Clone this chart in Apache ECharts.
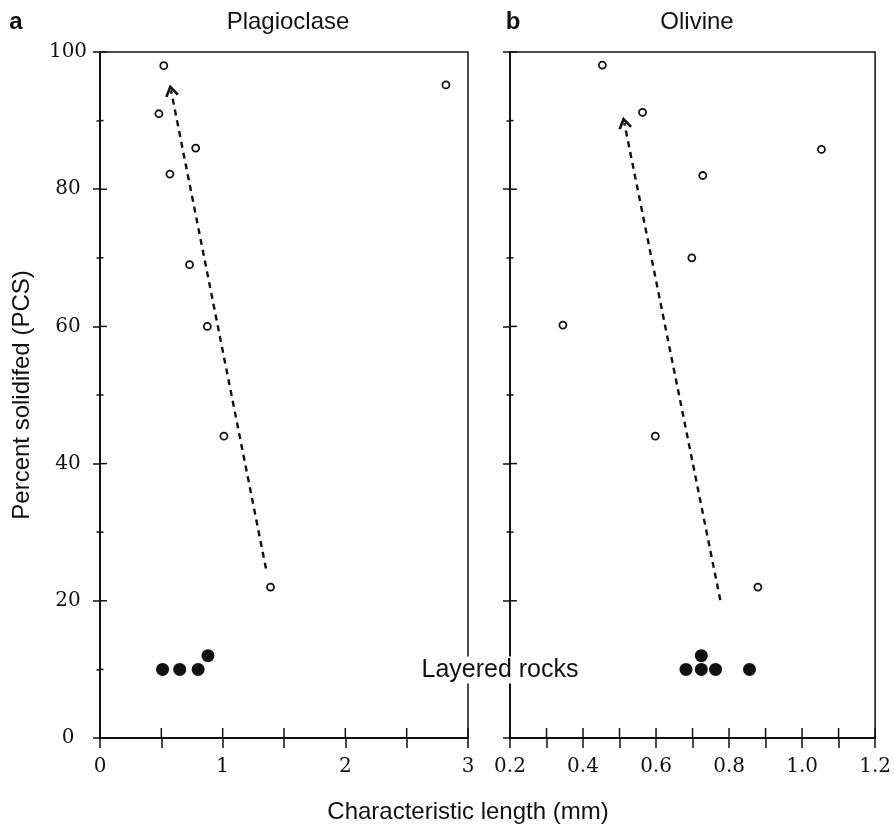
<!DOCTYPE html>
<html>
<head>
<meta charset="utf-8">
<script src="https://cdn.jsdelivr.net/npm/echarts@6/dist/echarts.min.js"></script>
<style>
  html, body { margin: 0; padding: 0; background: #ffffff; }
  #chart { width: 894px; height: 830px; }
</style>
</head>
<body>
<div id="chart"></div>
<script>
// Panel a — plagioclase: [characteristic length (mm), percent solidified]
const plagSamples = [[0.52, 98], [0.48, 91], [0.57, 82.2], [0.78, 86], [0.73, 69], [0.875, 60], [1.01, 44], [1.39, 22], [2.82, 95.2]];
const plagLayered = [[0.51, 10], [0.65, 10], [0.80, 10], [0.88, 12]];
const plagTrend = [[1.353, 24.7], [0.579, 94.4]];

// Panel b — olivine
const olivSamples = [[0.453, 98.1], [0.563, 91.2], [1.053, 85.8], [0.728, 82], [0.698, 70], [0.345, 60.2], [0.598, 44], [0.879, 22]];
const olivLayered = [[0.682, 10], [0.724, 10], [0.763, 10], [0.724, 12], [0.856, 10]];
const olivTrend = [[0.776, 20.1], [0.513, 89.7]];

// Tick positions and labels
const plagXTicks = [0, 0.5, 1, 1.5, 2, 2.5, 3];
const olivXTicks = [0.2, 0.3, 0.4, 0.5, 0.6, 0.7, 0.8, 0.9, 1.0, 1.1, 1.2];
const yTicks = [0, 10, 20, 30, 40, 50, 60, 70, 80, 90, 100];
const yTickLabels = [0, 20, 40, 60, 80, 100];
const plagXLabels = ['0', '1', '2', '3'];
const olivXLabels = ['0.2', '0.4', '0.6', '0.8', '1.0', '1.2'];

const INK = '#111111';
const SERIF = '"DejaVu Serif", "Liberation Serif", serif';
const SANS = '"Liberation Sans", Arial, sans-serif';
const chevron = 'path://M0,8.6 L5,0 L10,8.6 L8.3,9.6 L5,3.8 L1.7,9.6 Z';

const X_TICK = 10, Y_MAJOR = 7, Y_MINOR = 3.5;

function xAxis(grid, min, max, interval, labels, fmt) {
  return {
    type: 'value', gridIndex: grid, min: min, max: max, interval: interval,
    position: 'bottom', splitLine: { show: false },
    axisLine: { show: true, onZero: false, lineStyle: { color: INK, width: 2 } },
    axisTick: { show: true, inside: false, length: X_TICK, lineStyle: { color: INK, width: 1.5 } },
    axisLabel: {
      show: true, margin: 19, color: INK, fontFamily: SERIF, fontSize: 20,
      formatter: function (v) {
        const s = fmt(v);
        return labels.indexOf(s) >= 0 ? s : '';
      }
    }
  };
}

function yAxis(grid, withLabels) {
  return {
    type: 'value', gridIndex: grid, min: 0, max: 100, interval: 20,
    position: 'left', splitLine: { show: false },
    axisLine: { show: true, onZero: false, lineStyle: { color: INK, width: 2 } },
    axisTick: { show: true, inside: false, length: Y_MAJOR, lineStyle: { color: INK, width: 1.5 } },
    minorTick: { show: true, splitNumber: 2, length: Y_MINOR, lineStyle: { color: INK, width: 1.5 } },
    axisLabel: {
      show: withLabels, margin: 32, align: 'center', color: INK, fontFamily: SERIF, fontSize: 20,
      formatter: function (v) { return yTickLabels.indexOf(Math.round(v)) >= 0 ? String(Math.round(v)) : ''; }
    }
  };
}

// Inner halves of the axis ticks, so every tick crosses its axis line.
function innerXTicks(axisIdx, ticks, yMin) {
  return {
    type: 'custom', xAxisIndex: axisIdx, yAxisIndex: axisIdx, silent: true, clip: false, z: 4,
    data: ticks.map(function (v) { return [v, yMin]; }),
    renderItem: function (params, api) {
      const p = api.coord([api.value(0), api.value(1)]);
      return { type: 'line', shape: { x1: p[0], y1: p[1], x2: p[0], y2: p[1] - X_TICK },
        style: { stroke: INK, lineWidth: 1.5 } };
    }
  };
}

function innerYTicks(axisIdx, ticks, xMin) {
  return {
    type: 'custom', xAxisIndex: axisIdx, yAxisIndex: axisIdx, silent: true, clip: false, z: 4,
    data: ticks.map(function (v) { return [xMin, v]; }),
    renderItem: function (params, api) {
      const v = api.value(1);
      const len = Math.round(v) % 20 === 0 ? Y_MAJOR : Y_MINOR;
      const p = api.coord([api.value(0), v]);
      return { type: 'line', shape: { x1: p[0], y1: p[1], x2: p[0] + len, y2: p[1] },
        style: { stroke: INK, lineWidth: 1.5 } };
    }
  };
}

function openCircles(axisIdx, data, trend) {
  return {
    type: 'scatter', xAxisIndex: axisIdx, yAxisIndex: axisIdx, data: data,
    symbol: 'circle', symbolSize: 7,
    itemStyle: { color: '#ffffff', borderColor: INK, borderWidth: 1.8, opacity: 1 },
    z: 5,
    markLine: {
      silent: true, animation: false,
      symbol: ['none', chevron], symbolSize: [14, 12],
      label: { show: false },
      lineStyle: { color: INK, width: 2.4, type: [6, 5], opacity: 1 },
      emphasis: { disabled: true },
      data: [[{ coord: trend[0] }, { coord: trend[1] }]]
    }
  };
}

function filledCircles(axisIdx, data) {
  return {
    type: 'scatter', xAxisIndex: axisIdx, yAxisIndex: axisIdx, data: data,
    symbol: 'circle', symbolSize: 13,
    itemStyle: { color: INK, borderWidth: 0, opacity: 1 },
    z: 5
  };
}

const gridStyle = { top: 52, height: 686, show: true, borderColor: INK, borderWidth: 1.5, backgroundColor: 'transparent' };

const option = {
  animation: false,
  backgroundColor: '#ffffff',
  grid: [
    Object.assign({ left: 100, width: 368 }, gridStyle),
    Object.assign({ left: 510, width: 369 }, gridStyle)
  ],
  xAxis: [
    xAxis(0, 0, 3, 0.5, plagXLabels, function (v) { return String(Math.round(v * 10) / 10); }),
    xAxis(1, 0.2, 1.2, 0.1, olivXLabels, function (v) { return (Math.round(v * 10) / 10).toFixed(1); })
  ],
  yAxis: [yAxis(0, true), yAxis(1, false)],
  series: [
    innerXTicks(0, plagXTicks, 0),
    innerYTicks(0, yTicks, 0),
    openCircles(0, plagSamples, plagTrend),
    filledCircles(0, plagLayered),
    innerXTicks(1, olivXTicks, 0),
    innerYTicks(1, yTicks, 0.2),
    openCircles(1, olivSamples, olivTrend),
    filledCircles(1, olivLayered)
  ],
  graphic: [
    { type: 'text', x: 16, y: 22, z: 100, style: { text: 'a', font: 'bold 24px ' + SANS, fill: INK, textAlign: 'center', textVerticalAlign: 'middle', align: 'center', verticalAlign: 'middle' } },
    { type: 'text', x: 513, y: 22, z: 100, style: { text: 'b', font: 'bold 24px ' + SANS, fill: INK, textAlign: 'center', textVerticalAlign: 'middle', align: 'center', verticalAlign: 'middle' } },
    { type: 'text', x: 288, y: 22, z: 100, style: { text: 'Plagioclase', font: '24px ' + SANS, fill: INK, textAlign: 'center', textVerticalAlign: 'middle', align: 'center', verticalAlign: 'middle' } },
    { type: 'text', x: 697, y: 22, z: 100, style: { text: 'Olivine', font: '24px ' + SANS, fill: INK, textAlign: 'center', textVerticalAlign: 'middle', align: 'center', verticalAlign: 'middle' } },
    { type: 'text', x: 22, y: 395, rotation: Math.PI / 2, z: 100, style: { text: 'Percent solidifed (PCS)', font: '24px ' + SANS, fill: INK, textAlign: 'center', textVerticalAlign: 'middle', align: 'center', verticalAlign: 'middle' } },
    { type: 'text', x: 468, y: 812, z: 100, style: { text: 'Characteristic length (mm)', font: '24px ' + SANS, fill: INK, textAlign: 'center', textVerticalAlign: 'middle', align: 'center', verticalAlign: 'middle' } },
    { type: 'text', x: 500, y: 670, z: 100, style: { text: 'Layered rocks', font: '25px ' + SANS, fill: INK, backgroundColor: '#ffffff', padding: [1, 0], textAlign: 'center', textVerticalAlign: 'middle', align: 'center', verticalAlign: 'middle' } }
  ]
};

const chart = echarts.init(document.getElementById('chart'), null, { renderer: 'canvas' });
chart.setOption(option);
</script>
</body>
</html>
